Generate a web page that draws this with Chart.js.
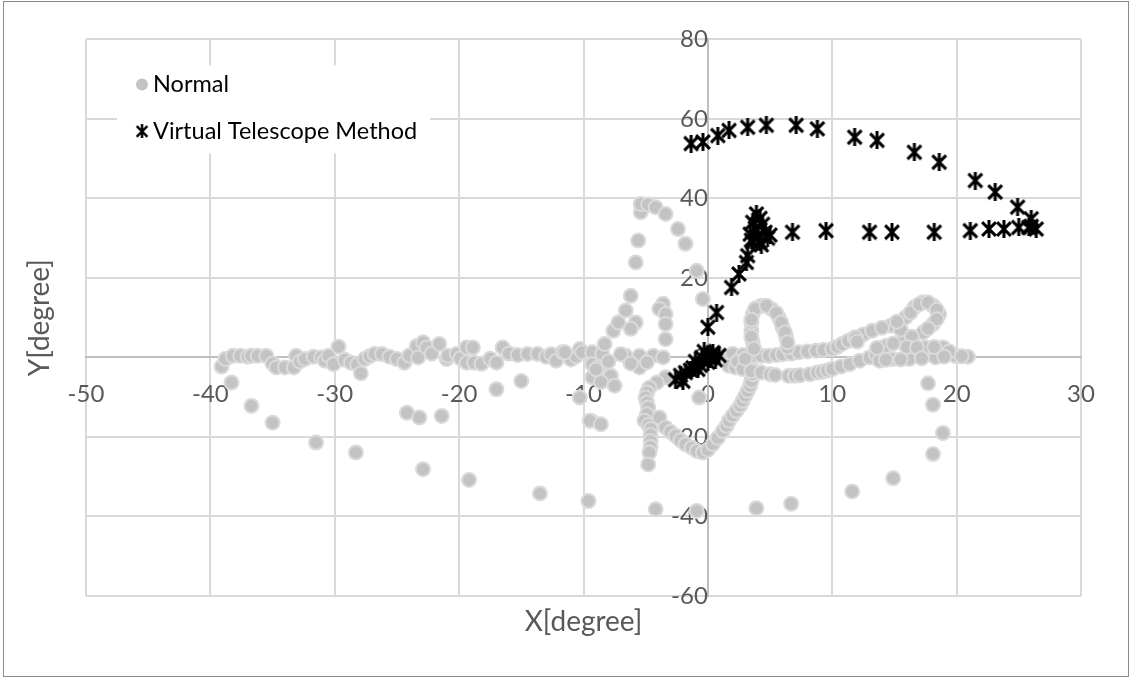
<!DOCTYPE html>
<html>
<head>
<meta charset="utf-8">
<script src="https://cdn.jsdelivr.net/npm/chart.js@4.4.1/dist/chart.umd.min.js"></script>
<style>
  html, body { margin: 0; padding: 0; background: #fff; }
  #wrap { position: relative; width: 1132px; height: 680px; }
  #frame { position: absolute; left: 3px; top: 1px; width: 1124px; height: 674px; border: 1px solid #8c8c8c; pointer-events: none; }
</style>
</head>
<body>
<div id="wrap">
  <canvas id="scatterChart" width="1132" height="680"></canvas>
  <div id="frame"></div>
</div>
<script>
// axis ranges / ticks
const xTicks = [-50, -40, -30, -20, -10, 0, 10, 20, 30];
const yTicks = [-60, -40, -20, 0, 20, 40, 60, 80];

// "Normal" series
const normalX = [
  // band along y=0, left side
  -39.1, -38.8, -38.2, -37.6, -37.0, -36.7, -36.2, -35.5, -35.0, -34.7, -34.0, -33.3, -33.1, -32.8, -32.4,
  -31.7, -31.1, -30.8, -30.5, -30.1, -29.7, -29.2, -28.7, -28.2, -27.9, -27.6, -27.2, -26.8, -26.2, -25.6,
  -25.0, -24.4, -24.0, -23.4, -23.3, -22.9, -22.6, -22.2, -21.6, -21.0, -20.9, -20.2, -19.9, -19.4, -18.9,
  -19.4, -18.8, -18.2, -17.5, -17.0, -16.5, -16.0, -15.3, -14.5, -13.7, -13.0, -12.6, -12.2, -11.7, -11.0,
  -10.6, -10.3, -9.8,
  // cluster left of the y axis
  -11.5, -10.1, -9.3, -8.5, -8.3, -6.6, -5.5, -4.4, -3.6, -9.3, -9.3, -7.8, -7.5, -5.5, -8.8, -8.0, -7.0,
  -9.0, -8.6, -6.2, -4.9,
  -7.6, -7.2, -6.6, -6.2, -5.8, -6.2, -3.6, -3.9, -3.4, -3.4, -3.4,
  // upper arc
  -5.8, -5.6, -5.4, -5.4, -4.8, -4.2, -3.4, -2.4, -1.8, -0.9, -0.4,
  // descending arcs
  -3.4, -4.1, -4.7, -4.9, -5.0, -4.9, -4.8, -4.9, -5.1, -4.8, -4.6, -4.6, -4.6, -4.6, -4.7, -4.8,
  -3.9, -3.4, -3.0, -2.6, -2.2, -1.8, -1.3, -0.9, -0.4, 0.0, 0.4, 0.8, 1.2, -0.7,
  1.5, 1.7, 2.0, 2.3, 2.6, 2.8, 3.0, 3.2, 3.4, 3.5, 3.6, 3.6,
  // band along y=0, right side
  0.8, 2.0, 2.8, 3.6, 4.3, 4.9, 5.5, 6.0, 6.7, 7.3, 8.0, 8.7, 9.3, 10.0, 10.4, 10.8, 11.3, 11.8, 12.5, 13.2,
  1.7, 2.2, 2.4, 2.8, 3.0, 3.5, 4.3, 5.0, 5.4, 6.5, 7.0, 7.4, 8.2, 8.8, 9.2, 9.6, 10.0, 10.7, 11.4, 12.2, 13.0, 13.5,
  // small loop
  4.3, 3.6, 3.5, 3.6, 5.1, 5.7, 6.0, 6.3, 6.4, 3.9, 3.5, 3.8, 4.7, 5.5, 5.9, 6.2, 3.5, 3.5, 3.7, 6.4,
  // right loop
  14.7, 11.9, 15.9, 16.6, 17.3, 18.1, 18.6, 18.1, 17.3, 15.6, 14.3, 17.5, 18.9, 19.9, 20.9, 18.3, 14.8, 16.2, 13.8, 12.0, 15.5,
  14.0, 15.2, 16.3, 17.0, 17.7, 18.4, 18.4, 17.7, 16.4, 14.9, 13.6, 16.0, 16.8, 18.2, 19.4, 20.4, 17.2, 15.5, 14.3, 19.0,
  // large lower arc
  -38.3, -36.7, -35.0, -31.5, -28.3, -22.9, -19.2, -13.5, -9.6, -4.2, -0.9, 3.9, 6.7, 11.6, 14.9, 18.1, 18.9, 18.1, 17.7,
  // scattered middle points
  -24.2, -23.2, -21.4, -17.0, -15.0, -10.3, -9.4, -9.5, -8.6
];
const normalY = [
  -2.3, -0.4, 0.4, 0.4, 0.2, 0.4, 0.4, 0.4, -1.5, -2.5, -2.5, -2.5, 0.4, -1.0, -0.4,
  0.2, 0.0, -0.8, 0.4, -1.7, 2.7, -0.6, -1.3, -1.8, -4.0, -0.4, 0.3, 0.9, 0.9, 0.2,
  -0.4, -1.3, 0.5, 2.9, 0.0, 3.8, 2.5, 1.0, 3.4, -0.4, 0.4, 0.9, -0.2, 2.5, 2.5,
  -1.3, -1.3, -1.6, -0.3, -1.3, 2.5, 1.0, 0.6, 0.9, 0.9, 0.2, 0.8, -0.8, 1.3, -0.5,
  0.3, 2.1, 0.9,
  1.3, 1.3, 1.3, 0.9, 3.4, 0.4, 0.4, 0.4, 0.0, -1.7, -5.0, -4.6, -7.1, -2.5, -2.5, -1.0, 0.8,
  -3.0, -6.2, -1.5, -1.2,
  6.7, 8.8, 11.8, 15.5, 8.8, 7.2, 13.5, 12.2, 10.9, 8.4, 4.6,
  23.9, 29.4, 36.5, 38.6, 38.5, 37.8, 36.1, 32.3, 28.6, 21.8, 14.7,
  -5.0, -6.3, -7.6, -8.8, -10.1, -11.3, -12.6, -14.3, -15.9, -17.0, -18.0, -19.5, -21.0, -22.5, -23.9, -26.9,
  -15.1, -17.6, -18.7, -19.7, -20.8, -21.8, -22.7, -23.5, -23.9, -23.2, -21.8, -20.2, -18.5, -10.1,
  -17.2, -15.9, -14.6, -13.4, -12.1, -10.9, -9.6, -8.4, -7.1, -5.9, -4.2, -3.0,
  0.8, 0.9, 0.6, 0.4, 0.4, 0.4, 0.6, 0.8, 1.0, 1.3, 1.5, 1.7, 1.9, 2.1, 2.7, 3.4, 4.2, 5.0, 5.8, 6.7,
  -2.1, -2.5, -1.0, -2.9, -0.3, -3.4, -3.8, -4.2, -4.4, -4.6, -4.6, -4.5, -4.2, -3.8, -3.6, -3.3, -2.9, -2.3, -1.7, -0.8, 0.0, 0.8,
  13.0, 10.9, 6.7, 3.8, 12.2, 10.1, 7.6, 5.0, 2.5, 12.4, 8.8, 12.2, 13.0, 11.2, 8.8, 6.3, 9.5, 5.2, 2.2, 3.8,
  8.0, 5.0, 10.1, 12.6, 13.9, 13.0, 10.9, 8.4, 6.3, 4.2, 2.9, 2.5, 2.5, 0.4, 0.2, 0.0, -0.4, -0.4, -0.8, 4.0, 7.0,
  7.5, 9.0, 11.3, 13.4, 13.8, 12.0, 9.6, 7.3, 5.2, 3.5, 2.4, 2.6, 2.5, 2.6, 1.5, 0.3, -0.2, -0.5, -0.6, 0.2,
  -6.3, -12.2, -16.4, -21.4, -23.9, -28.1, -30.8, -34.2, -36.1, -38.2, -38.6, -37.9, -36.8, -33.7, -30.4, -24.3, -19.0, -11.9, -6.5,
  -13.9, -15.1, -14.7, -8.0, -5.9, -10.1, -15.9, -15.9, -16.8
];

// "Virtual Telescope Method" series
const vtmX = [
  -1.35, -0.4, 0.8, 1.7, 3.2, 4.7, 7.1, 8.8, 11.8, 13.6, 16.6, 18.6, 21.5, 23.1, 24.9, 26.0,
  6.8, 9.5, 13.0, 14.8, 18.2, 21.1, 22.6, 23.8, 25.0, 25.8, 26.4, 26.0,
  3.9, 4.2, 3.6, 4.4, 3.8, 4.6, 3.4, 4.0, 4.8, 3.5, 4.2, 3.6, 5.0, 4.3,
  3.2, 3.1, 2.5, 1.9, 0.7, 0.0,
  -0.3, 0.4, 0.9, 0.2, -0.5, 0.6, -1.0, -0.6, 0.0, -1.2, 0.3,
  -2.6, -2.2, -1.8, -1.4, -2.0, -0.8
];
const vtmY = [
  53.8, 54.2, 55.8, 57.1, 57.9, 58.4, 58.4, 57.5, 55.4, 54.6, 51.6, 49.1, 44.5, 41.6, 37.8, 34.9,
  31.5, 31.9, 31.5, 31.5, 31.5, 31.9, 32.3, 32.3, 32.7, 32.7, 32.3, 33.0,
  36.1, 35.0, 34.0, 33.5, 32.5, 31.5, 31.0, 30.5, 30.0, 29.5, 29.0, 29.0, 30.8, 28.3,
  25.6, 23.9, 21.0, 17.6, 11.3, 7.6,
  1.5, 1.2, 0.5, -0.3, 0.0, -0.6, -1.0, -2.0, -1.2, -2.6, 0.6,
  -5.6, -4.5, -3.8, -3.2, -6.0, -3.0
];

const FONT = 'Lato, "Open Sans", sans-serif';

// Excel style star marker: X with a vertical bar
function makeStar(size, color, lw) {
  const c = document.createElement('canvas');
  c.width = size;
  c.height = size;
  const g = c.getContext('2d');
  g.strokeStyle = color;
  g.lineWidth = lw;
  const m = lw * 0.7;
  g.beginPath();
  g.moveTo(m, m); g.lineTo(size - m, size - m);
  g.moveTo(size - m, m); g.lineTo(m, size - m);
  g.moveTo(size / 2, 0); g.lineTo(size / 2, size);
  g.stroke();
  return c;
}
const starMarker = makeStar(18, '#000', 3);

const toPoints = (xs, ys) => xs.map((x, i) => ({ x: x, y: ys[i] }));

// Titles + in-plot legend box
const extras = {
  id: 'extras',
  afterDraw(chart) {
    const { ctx, chartArea: a } = chart;
    ctx.save();
    ctx.fillStyle = '#595959';
    ctx.font = '28px ' + FONT;
    ctx.textAlign = 'center';
    ctx.textBaseline = 'middle';
    ctx.fillText('X[degree]', (a.left + a.right) / 2, a.bottom + 26);
    ctx.save();
    ctx.translate(a.left - 46, (a.top + a.bottom) / 2);
    ctx.rotate(-Math.PI / 2);
    ctx.fillText('Y[degree]', 0, 0);
    ctx.restore();

    // legend
    const lx = a.left + 31, ly = a.top + 26;
    ctx.fillStyle = '#fff';
    ctx.fillRect(lx, ly, 313, 88);
    ctx.font = '23.5px ' + FONT;
    ctx.textAlign = 'left';
    // Normal
    ctx.beginPath();
    ctx.arc(lx + 25, ly + 19, 6, 0, Math.PI * 2);
    ctx.fillStyle = '#c3c3c3';
    ctx.fill();
    ctx.fillStyle = '#000';
    ctx.fillText('Normal', lx + 36, ly + 19);
    ctx.drawImage(starMarker, lx + 18, ly + 59, 14, 14);
    ctx.fillText('Virtual Telescope Method', lx + 36, ly + 66);
    ctx.restore();
  }
};

const ctx = document.getElementById('scatterChart').getContext('2d');
new Chart(ctx, {
  type: 'scatter',
  data: {
    datasets: [
      {
        label: 'Normal',
        data: toPoints(normalX, normalY),
        pointStyle: 'circle',
        pointRadius: 7,
        pointBorderWidth: 2,
        backgroundColor: '#c3c3c3',
        borderColor: '#dadada',
        order: 2
      },
      {
        label: 'Virtual Telescope Method',
        data: toPoints(vtmX, vtmY),
        pointStyle: starMarker,
        backgroundColor: '#000',
        borderColor: '#000',
        order: 1
      }
    ]
  },
  options: {
    responsive: false,
    animation: false,
    layout: { padding: { left: 86, right: 51, top: 37, bottom: 84 } },
    plugins: {
      legend: { display: false },
      tooltip: { enabled: false }
    },
    scales: {
      x: {
        type: 'linear',
        position: { y: 0 },
        min: -50,
        max: 30,
        afterBuildTicks: (axis) => { axis.ticks = xTicks.map(v => ({ value: v })); },
        grid: { color: '#d9d9d9', lineWidth: 2, drawTicks: false },
        border: { color: '#bfbfbf', width: 2 },
        ticks: { color: '#595959', font: { family: FONT, size: 24 }, padding: 22, autoSkip: false, maxRotation: 0 }
      },
      y: {
        type: 'linear',
        position: { x: 0 },
        min: -60,
        max: 80,
        afterBuildTicks: (axis) => { axis.ticks = yTicks.map(v => ({ value: v })); },
        grid: { color: '#d9d9d9', lineWidth: 2, drawTicks: false },
        border: { color: '#bfbfbf', width: 2 },
        ticks: { color: '#595959', font: { family: FONT, size: 24 }, padding: 25, autoSkip: false }
      }
    }
  },
  plugins: [extras]
});
</script>
</body>
</html>
